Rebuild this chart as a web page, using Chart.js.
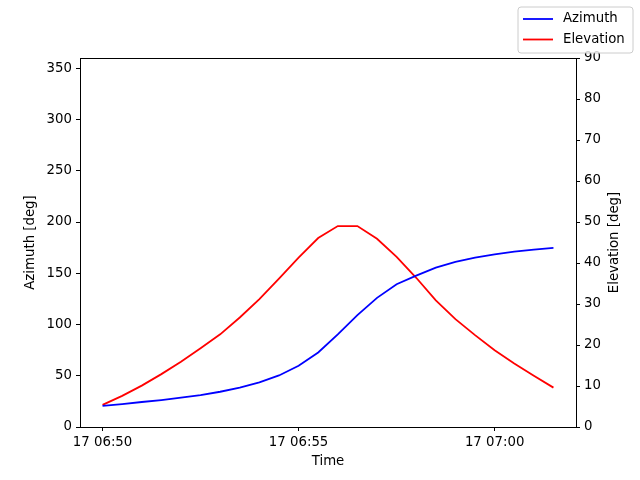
<!DOCTYPE html>
<html>
<head>
<meta charset="utf-8">
<script src="https://cdn.jsdelivr.net/npm/chart.js@4/dist/chart.umd.min.js"></script>
<style>
  html, body { margin: 0; padding: 0; background: #fff; }
  #wrap { width: 640px; height: 480px; }
</style>
</head>
<body>
<div id="wrap"><canvas id="chart" width="640" height="480"></canvas></div>
<script>
// sample times (30 s steps) on day 17
const times = [
    '06:50:00', '06:50:30', '06:51:00', '06:51:30', '06:52:00', '06:52:30',
    '06:53:00', '06:53:30', '06:54:00', '06:54:30', '06:55:00', '06:55:30',
    '06:56:00', '06:56:30', '06:57:00', '06:57:30', '06:58:00', '06:58:30',
    '06:59:00', '06:59:30', '07:00:00', '07:00:30', '07:01:00', '07:01:30'
];
const azimuth = [
    20.7, 22.4, 24.4, 26.3, 28.6, 31.2, 34.4, 38.3, 43.5, 50.3, 59.7, 72.7,
    90.3, 109.1, 126.0, 139.3, 147.7, 155.5, 161.0, 165.3, 168.5, 171.1, 173.1, 174.7
];
const elevation = [
    5.4, 7.6, 10.1, 12.9, 15.9, 19.2, 22.6, 26.7, 31.2, 36.2, 41.3, 46.1,
    49.0, 49.0, 45.9, 41.5, 36.4, 30.9, 26.3, 22.4, 18.7, 15.5, 12.5, 9.6
];
const timeTicks = ['06:50', '06:55', '07:00'];
const azTicks = [0, 50, 100, 150, 200, 250, 300, 350];
const elTicks = [0, 10, 20, 30, 40, 50, 60, 70, 80, 90];

const dayLabel = '17';
const baseMin = toMinutes('06:50:00');

function toMinutes(t) {
    const p = t.split(':').map(Number);
    return p[0] * 60 + p[1] + (p[2] || 0) / 60;
}

function fmtTime(m) {
    const total = Math.round(baseMin + m);
    const h = String(Math.floor(total / 60)).padStart(2, '0');
    const mm = String(total % 60).padStart(2, '0');
    return dayLabel + ' ' + h + ':' + mm;
}

const xs = times.map(t => toMinutes(t) - baseMin);
const span = xs[xs.length - 1] - xs[0];

const FONT = { family: 'DejaVu Sans', size: 13.3 };

// axes frame, axis titles and boxed legend, drawn like matplotlib
const framePlugin = {
    id: 'frame',
    afterDraw(chart) {
        const ctx = chart.ctx;
        const a = chart.chartArea;
        ctx.save();
        ctx.strokeStyle = '#000';
        ctx.lineWidth = 1;
        ctx.strokeRect(Math.round(a.left) + 0.5, Math.round(a.top) + 0.5,
            Math.round(a.right - a.left), Math.round(a.bottom - a.top));

        // axis titles (both y labels read bottom to top)
        ctx.font = FONT.size + 'px ' + FONT.family;
        ctx.fillStyle = '#000';
        ctx.textAlign = 'center';
        ctx.textBaseline = 'middle';
        const midY = (a.top + a.bottom) / 2;
        ctx.fillText('Time', (a.left + a.right) / 2, 462);
        [[31, 'Azimuth [deg]'], [615, 'Elevation [deg]']].forEach(([x, txt]) => {
            ctx.save();
            ctx.translate(x, midY);
            ctx.rotate(-Math.PI / 2);
            ctx.fillText(txt, 0, 0);
            ctx.restore();
        });

        // legend
        const lx = 518, ly = 7, lw = 115, lh = 46, r = 3;
        ctx.beginPath();
        ctx.moveTo(lx + r, ly);
        ctx.arcTo(lx + lw, ly, lx + lw, ly + lh, r);
        ctx.arcTo(lx + lw, ly + lh, lx, ly + lh, r);
        ctx.arcTo(lx, ly + lh, lx, ly, r);
        ctx.arcTo(lx, ly, lx + lw, ly, r);
        ctx.closePath();
        ctx.fillStyle = 'rgba(255,255,255,0.8)';
        ctx.fill();
        ctx.strokeStyle = '#cccccc';
        ctx.stroke();

        ctx.textAlign = 'left';
        ctx.fillStyle = '#000';
        chart.data.datasets.forEach((ds, i) => {
            const y = 19 + i * 20.5;
            ctx.strokeStyle = ds.borderColor;
            ctx.lineWidth = 1.8;
            ctx.beginPath();
            ctx.moveTo(523, y);
            ctx.lineTo(553, y);
            ctx.stroke();
            ctx.fillText(ds.label, 563, y);
        });
        ctx.restore();
    }
};

const tickGrid = {
    drawOnChartArea: false,
    drawTicks: true,
    tickLength: 4,
    tickWidth: 1,
    tickColor: '#000'
};

new Chart(document.getElementById('chart'), {
    type: 'line',
    data: {
        datasets: [{
            label: 'Azimuth',
            data: xs.map((x, i) => ({ x: x, y: azimuth[i] })),
            borderColor: '#0000ff',
            borderWidth: 1.8,
            pointRadius: 0,
            tension: 0,
            yAxisID: 'y'
        }, {
            label: 'Elevation',
            data: xs.map((x, i) => ({ x: x, y: elevation[i] })),
            borderColor: '#ff0000',
            borderWidth: 1.8,
            pointRadius: 0,
            tension: 0,
            yAxisID: 'y2'
        }]
    },
    options: {
        responsive: false,
        animation: false,
        layout: { padding: { top: 58, left: 0, right: 0, bottom: 0 } },
        plugins: {
            legend: { display: false },
            tooltip: { enabled: false }
        },
        scales: {
            x: {
                type: 'linear',
                min: xs[0] - span * 0.05,
                max: xs[xs.length - 1] + span * 0.05,
                afterBuildTicks: s => { s.ticks = timeTicks.map(t => ({ value: toMinutes(t) - baseMin })); },
                afterFit: s => { s.height = 53; },
                ticks: {
                    color: '#000', font: FONT, padding: 4, maxRotation: 0,
                    callback: v => fmtTime(v)
                },
                grid: tickGrid,
                border: { display: false }
            },
            y: {
                position: 'left',
                min: 0,
                max: 360,
                afterBuildTicks: s => { s.ticks = azTicks.map(v => ({ value: v })); },
                afterFit: s => { s.width = 80; },
                ticks: { color: '#000', font: FONT, padding: 4 },
                grid: tickGrid,
                border: { display: false }
            },
            y2: {
                position: 'right',
                min: 0,
                max: 90,
                afterBuildTicks: s => { s.ticks = elTicks.map(v => ({ value: v })); },
                afterFit: s => { s.width = 64; },
                ticks: { color: '#000', font: FONT, padding: 4 },
                grid: tickGrid,
                border: { display: false }
            }
        }
    },
    plugins: [framePlugin]
});
</script>
</body>
</html>
